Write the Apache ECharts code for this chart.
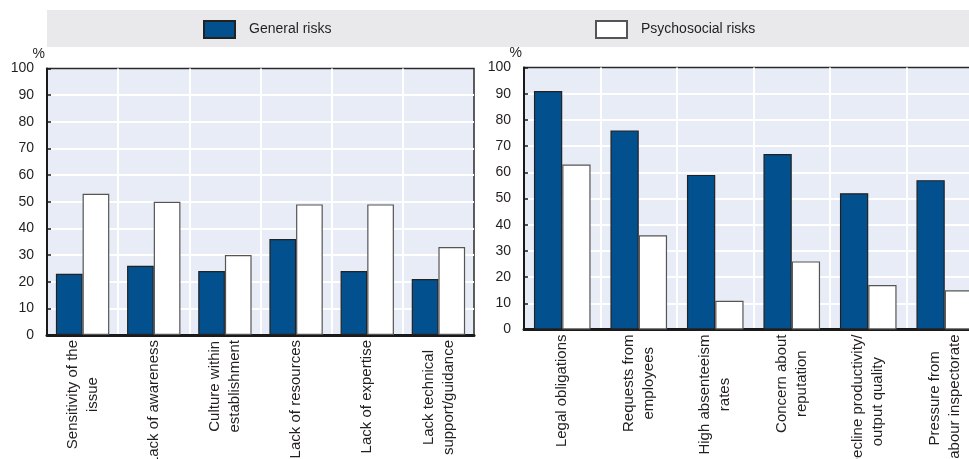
<!DOCTYPE html>
<html>
<head>
<meta charset="utf-8">
<script src="https://cdn.jsdelivr.net/npm/echarts@6/dist/echarts.min.js"></script>
<style>
  html, body { margin: 0; padding: 0; background: #ffffff; }
  #chart { width: 969px; height: 459px; }
</style>
</head>
<body>
<div id="chart"></div>
<script>
// Barriers (left panel) and drivers (right panel), % of establishments
const barrierCategories = [
  'Sensitivity of the\nissue',
  'Lack of awareness',
  'Culture within\nestablishment',
  'Lack of resources',
  'Lack of expertise',
  'Lack technical\nsupport/guidance'
];
const barrierGeneral = [23, 26, 24, 36, 24, 21];
const barrierPsychosocial = [53, 50, 30, 49, 49, 33];

const driverCategories = [
  'Legal obligations',
  'Requests from\nemployees',
  'High absenteeism\nrates',
  'Concern about\nreputation',
  'Decline productivity/\noutput quality',
  'Pressure from\nlabour inspectorate'
];
const driverGeneral = [91, 76, 59, 67, 52, 57];
const driverPsychosocial = [63, 36, 11, 26, 17, 15];

const yTicks = { min: 0, max: 100, interval: 10 };
const seriesNames = ['General risks', 'Psychosocial risks'];

const BLUE = '#03508f';
const TEXT = '#231f20';
const NARROW = "'Liberation Sans Narrow', 'Arial Narrow', 'Liberation Sans', Arial, sans-serif";
const REGULAR = "'Liberation Sans', Arial, sans-serif";

function catAxis(gridIndex, data) {
  return {
    type: 'category',
    gridIndex: gridIndex,
    data: data,
    boundaryGap: true,
    axisLine: { show: true, lineStyle: { color: '#1a1a1a', width: 3 } },
    axisTick: { show: false },
    splitLine: {
      show: true, showMinLine: false, showMaxLine: false,
      lineStyle: { color: '#ffffff', width: 2 }
    },
    axisLabel: {
      interval: 0,
      rotate: 90,
      margin: 5,
      hideOverlap: false,
      color: TEXT,
      fontFamily: REGULAR,
      fontSize: 15,
      lineHeight: 20,
      formatter: function (v) {
        return v.split('\n').map(function (s) { return '{c|' + s + '}'; }).join('\n');
      },
      rich: {
        c: { align: 'center', fontFamily: REGULAR, fontSize: 15, lineHeight: 20, color: TEXT }
      }
    }
  };
}

function valAxis(gridIndex) {
  return {
    type: 'value',
    gridIndex: gridIndex,
    min: yTicks.min,
    max: yTicks.max,
    interval: yTicks.interval,
    name: '%',
    nameLocation: 'end',
    nameGap: 0,
    nameTextStyle: {
      color: TEXT, fontFamily: NARROW, fontSize: 14, lineHeight: 6,
      align: 'right', verticalAlign: 'bottom', padding: [0, 2, 0, 0]
    },
    axisLine: { show: true, lineStyle: { color: '#1a1a1a', width: 2 } },
    axisTick: { show: true, inside: true, length: 4, lineStyle: { color: '#1a1a1a', width: 1.5 } },
    splitLine: {
      show: true, showMinLine: false, showMaxLine: false,
      lineStyle: { color: '#ffffff', width: 2 }
    },
    axisLabel: { color: TEXT, fontFamily: NARROW, fontSize: 14, margin: 13 }
  };
}

function barSeries(name, axisIndex, data, fill, border, gap) {
  return {
    name: name,
    type: 'bar',
    xAxisIndex: axisIndex,
    yAxisIndex: axisIndex,
    data: data,
    barGap: '0%',
    barCategoryGap: gap,
    itemStyle: { color: fill, borderColor: border, borderWidth: 1.2 },
    emphasis: { disabled: true },
    animation: false
  };
}

function legendFor(name, left) {
  return {
    data: [name],
    left: left, top: 20,
    padding: 0,
    icon: 'rect',
    itemWidth: 31, itemHeight: 17,
    selectedMode: false,
    textStyle: { color: TEXT, fontFamily: NARROW, fontSize: 14, padding: [0, 0, 0, 9] }
  };
}

const chart = echarts.init(document.getElementById('chart'), null, { renderer: 'canvas' });

chart.setOption({
  animation: false,
  backgroundColor: '#ffffff',
  graphic: [{
    type: 'rect',
    z: -10,
    shape: { x: 47, y: 10, width: 922, height: 37 },
    style: { fill: '#e9e9eb' }
  }],
  legend: [legendFor(seriesNames[0], 203), legendFor(seriesNames[1], 595)],
  grid: [
    {
      left: 47, top: 68.5, width: 427, height: 266.5,
      show: true, backgroundColor: '#e8ecf6', borderColor: '#2a2a2a', borderWidth: 1.5,
      containLabel: false, outerBoundsMode: 'none'
    },
    {
      left: 524, top: 67.5, width: 459, height: 262,
      show: true, backgroundColor: '#e8ecf6', borderColor: '#2a2a2a', borderWidth: 1.5,
      containLabel: false, outerBoundsMode: 'none'
    }
  ],
  xAxis: [catAxis(0, barrierCategories), catAxis(1, driverCategories)],
  yAxis: [valAxis(0), valAxis(1)],
  series: [
    barSeries(seriesNames[0], 0, barrierGeneral, BLUE, '#222222', '25%'),
    barSeries(seriesNames[1], 0, barrierPsychosocial, '#ffffff', '#555555', '25%'),
    barSeries(seriesNames[0], 1, driverGeneral, BLUE, '#222222', '26%'),
    barSeries(seriesNames[1], 1, driverPsychosocial, '#ffffff', '#555555', '26%')
  ]
});
</script>
</body>
</html>
